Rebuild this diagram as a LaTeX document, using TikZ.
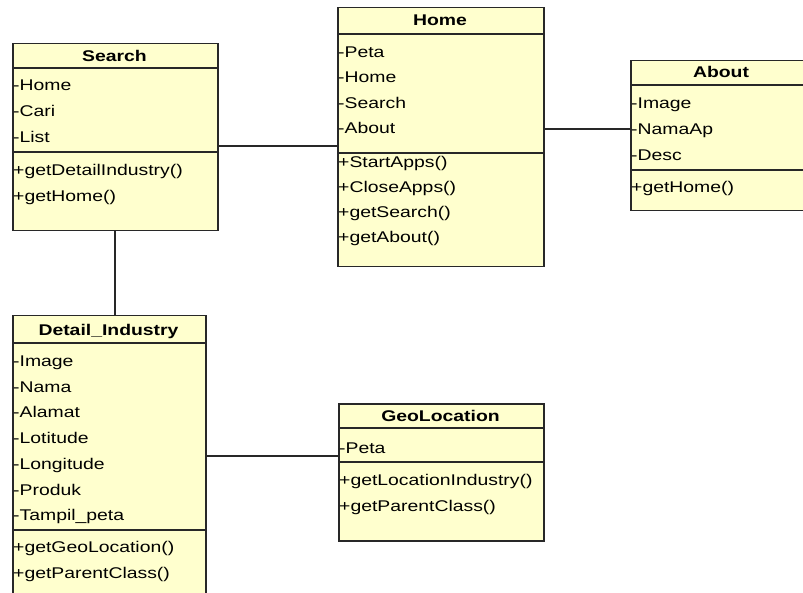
\documentclass[tikz,border=0pt]{standalone}
\usepackage{fontspec}
\setmainfont{Liberation Sans}[FakeStretch=1.25]
\usetikzlibrary{positioning}
\definecolor{classfill}{RGB}{255,255,206}
\definecolor{classline}{RGB}{40,40,40}

\begin{document}
\begin{tikzpicture}[x=1pt,y=-1pt,
        font=\fontsize{15.5}{18}\selectfont,
        classbox/.style={draw=classline, line width=1.5pt, fill=classfill, anchor=north west, inner sep=0pt},
        divider/.style={draw=classline, line width=1.5pt},
        classname/.style={anchor=base, inner sep=0pt, font=\fontsize{15.5}{18}\selectfont\bfseries},
        member/.style={anchor=base west, inner sep=0pt},
        link/.style={draw=classline, line width=1.8pt}]
        \useasboundingbox (0,0) rectangle (803,593);
        \clip (0,0) rectangle (803,593);
        \fill[white] (0,0) rectangle (803,593);

        % Search
        \node[classbox, minimum width=205pt, minimum height=187pt] (search) at (12,43) {};
        \draw[divider] ([yshift=-25pt]search.north west) -- ([yshift=-25pt]search.north east);
        \draw[divider] ([yshift=-109pt]search.north west) -- ([yshift=-109pt]search.north east);
        \node[classname] (search-name) at (114.5,61.5) {Search};
        \foreach \t [count=\i from 0] in {-Home,-Cari,-List}
            \node[member] (search-a\i) at (13,90.5+26*\i) {\t};
        \foreach \t [count=\i from 0] in {+getDetailIndustry(),+getHome()}
            \node[member] (search-m\i) at (13,175.5+26*\i) {\t};

        % Home
        \node[classbox, minimum width=206pt, minimum height=259pt] (home) at (337,7) {};
        \draw[divider] ([yshift=-27pt]home.north west) -- ([yshift=-27pt]home.north east);
        \draw[divider] ([yshift=-146pt]home.north west) -- ([yshift=-146pt]home.north east);
        \node[classname] (home-name) at (440,26) {Home};
        \foreach \t [count=\i from 0] in {-Peta,-Home,-Search,-About}
            \node[member] (home-a\i) at (338,57.5+25.3*\i) {\t};
        \foreach \t [count=\i from 0] in {+StartApps(),+CloseApps(),+getSearch(),+getAbout()}
            \node[member] (home-m\i) at (338,167.5+25*\i) {\t};

        % About
        \node[classbox, minimum width=182pt, minimum height=150pt] (about) at (630,60) {};
        \draw[divider] ([yshift=-25pt]about.north west) -- ([yshift=-25pt]about.north east);
        \draw[divider] ([yshift=-110pt]about.north west) -- ([yshift=-110pt]about.north east);
        \node[classname] (about-name) at (721,78) {About};
        \foreach \t [count=\i from 0] in {-Image,-NamaAp,-Desc}
            \node[member] (about-a\i) at (631,108.5+26*\i) {\t};
        \node[member] (about-m0) at (631,192.5) {+getHome()};

        % Detail_Industry
        \node[classbox, minimum width=193pt, minimum height=280pt] (detail) at (12,315) {};
        \draw[divider] ([yshift=-28pt]detail.north west) -- ([yshift=-28pt]detail.north east);
        \draw[divider] ([yshift=-215pt]detail.north west) -- ([yshift=-215pt]detail.north east);
        \node[classname] (detail-name) at (108.5,335.5) {Detail\_Industry};
        \foreach \t [count=\i from 0] in {-Image,-Nama,-Alamat,-Lotitude,-Longitude,-Produk,-Tampil\_peta}
            \node[member] (detail-a\i) at (13,366.5+25.7*\i) {\t};
        \foreach \t [count=\i from 0] in {+getGeoLocation(),+getParentClass()}
            \node[member] (detail-m\i) at (13,552.5+26*\i) {\t};

        % GeoLocation
        \node[classbox, minimum width=205pt, minimum height=137pt] (geo) at (338,403) {};
        \draw[divider] ([yshift=-25pt]geo.north west) -- ([yshift=-25pt]geo.north east);
        \draw[divider] ([yshift=-59pt]geo.north west) -- ([yshift=-59pt]geo.north east);
        \node[classname] (geo-name) at (440.5,421) {GeoLocation};
        \node[member] (geo-a0) at (339,453.5) {-Peta};
        \foreach \t [count=\i from 0] in {+getLocationIndustry(),+getParentClass()}
            \node[member] (geo-m\i) at (339,485.5+25.5*\i) {\t};

        % associations
        \draw[link] ([yshift=-8.5pt]search.east) -- ([yshift=-8.5pt]home.west);
        \draw[link] ([yshift=8.5pt]home.east) -- ([yshift=8.5pt]home.east -| about.west);
        \draw[link] (search.south) -- (search.south |- detail.north);
        \draw[link] (detail.east) -- (detail.east -| geo.west);
    \end{tikzpicture}
\end{document}
